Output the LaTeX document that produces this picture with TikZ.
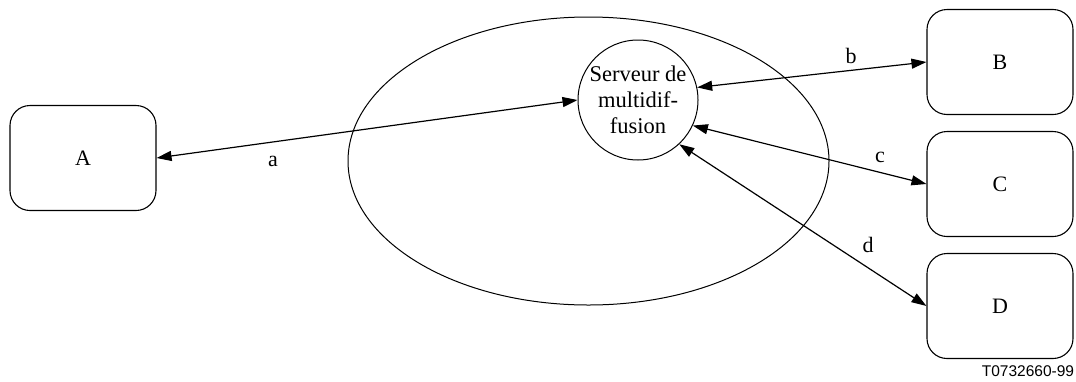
\documentclass[tikz,border=0pt]{standalone}
\usepackage{fontspec}
\setmainfont{Liberation Serif}
\newfontfamily\labelsans{Liberation Sans}
\usetikzlibrary{arrows.meta}
\begin{document}
\begin{tikzpicture}[x=1pt,y=-1pt,
  termbox/.style={draw,line width=1.1pt,rounded corners=20pt,minimum width=146pt,minimum height=105pt,inner sep=0pt,font=\fontsize{22}{24}\selectfont},
  link/.style={line width=1.2pt,{Triangle[length=15pt,width=10pt]}-{Triangle[length=15pt,width=10pt]}},
  lbl/.style={font=\fontsize{22}{24}\selectfont,inner sep=0pt}]
\useasboundingbox (0,0) rectangle (1076,381);
\draw[line width=1pt] (588.5,161) ellipse [x radius=240.5, y radius=144];
\node[draw,circle,line width=1pt,minimum size=120pt,inner sep=0pt,align=center,font=\fontsize{22.5}{26}\selectfont] (S) at (638,100) {Serveur de\\multidif-\\fusion};
\node[termbox] (A) at (83,158) {A};
\node[termbox] (B) at (1000,62) {B};
\node[termbox] (C) at (1000,184) {C};
\node[termbox] (D) at (1000,306) {D};
\draw[link] (A.east) -- (S.west);
\draw[link] (S.12) -- (B.west);
\draw[link] (S.-25) -- (C.west);
\draw[link] (S.-47) -- (D.west);
\node[lbl] (la) at (273,161) {a};
\node[lbl] (lb) at (851,56) {b};
\node[lbl] (lc) at (880,157) {c};
\node[lbl] (ld) at (868,245) {d};
\node[inner sep=0pt,font=\labelsans\fontsize{15.5}{18}\selectfont] (ref) at (1028,371) {T0732660-99};
\end{tikzpicture}
\end{document}
